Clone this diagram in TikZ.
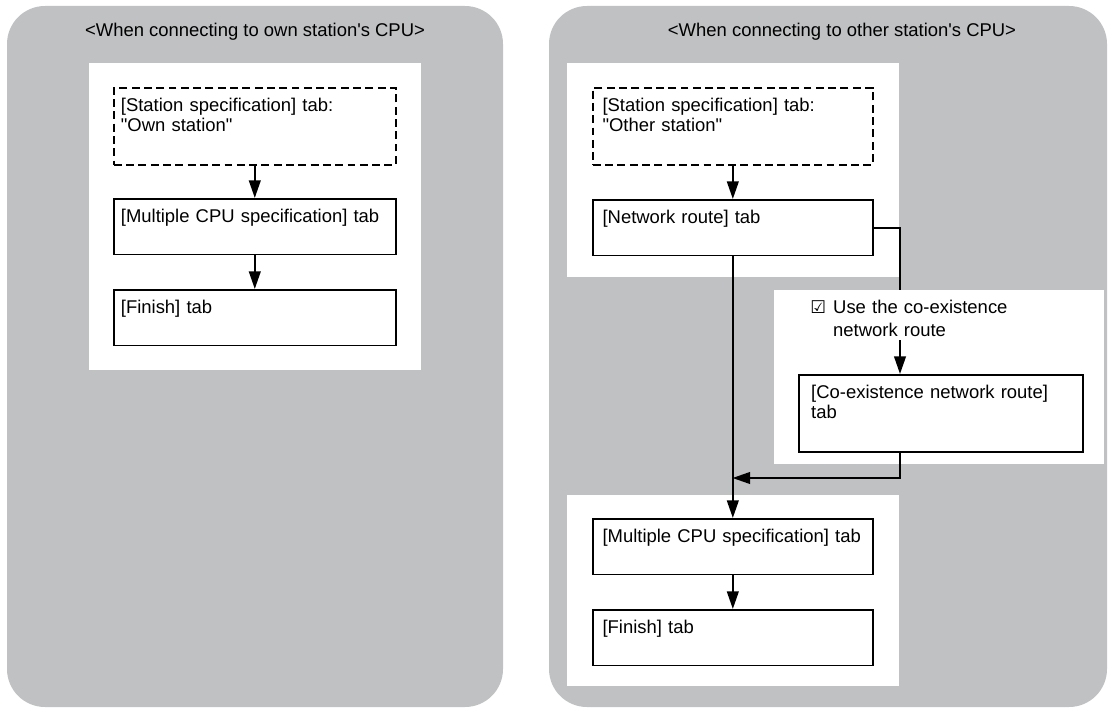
\documentclass[tikz,border=0pt]{standalone}
\usepackage{fontspec}
\setmainfont{Liberation Sans}
\newfontfamily\simbolo{DejaVu Sans}
\usetikzlibrary{arrows.meta}
\definecolor{gris}{HTML}{C0C1C3}

\begin{document}
\begin{tikzpicture}[x=0.02cm, y=-0.02cm, >={Triangle[length=10pt,width=6.6pt]},
  font=\fontsize{10.5}{11.2}\selectfont,
  tab/.style={draw, line width=1pt, anchor=north west, align=left, inner ysep=0pt, text height=13.5pt},
  tabL/.style={tab, inner xsep=4pt, text width=152.4pt},
  tabR/.style={tab, inner xsep=5.5pt, text width=148.3pt},
  one/.style={text depth=18.2pt},
  two/.style={text depth=30.3pt},
  tabdash/.style={dash pattern=on 4.5pt off 2.5pt},
  flow/.style={->, line width=1.2pt},
  wire/.style={line width=1.2pt}]
  \useasboundingbox (0,0) rectangle (1108,709);

  % fondos
  \fill[gris, rounded corners=0.76cm] (7,6) rectangle (503,707);
  \fill[gris, rounded corners=0.76cm] (549,6) rectangle (1107,707);
  \fill[white] (89,63) rectangle (421,370);
  \fill[white] (567,63) rectangle (899,277);
  \fill[white] (774,290) rectangle (1104,464);
  \fill[white] (567,495) rectangle (899,686);

  % own station
  \node (titL) at (255,32) {<When connecting to own station\textquotesingle s CPU>};
  \node[tabL, two, tabdash] (estL) at (113,87) {[Station specification] tab:\\\textquotedbl Own station\textquotedbl};
  \node[tabL, one] (multL) at (113,198) {[Multiple CPU specification] tab};
  \node[tabL, one] (finL) at (113,289) {[Finish] tab};
  \draw[flow] (estL.south) -- (multL.north);
  \draw[flow] (multL.south) -- (finL.north);

  % other station
  \node (titR) at (842,32) {<When connecting to other station\textquotesingle s CPU>};
  \node[tabR, two, tabdash] (estR) at (592,87) {[Station specification] tab:\\\textquotedbl Other station\textquotedbl};
  \node[tabR, one] (net) at (592,199) {[Network route] tab};
  \node[tab, two, inner xsep=7pt, text width=147.6pt] (coex) at (798,374) {[Co-existence network route]\\tab};
  \node[tabR, one] (multR) at (592,518) {[Multiple CPU specification] tab};
  \node[tabR, one] (finR) at (592,609) {[Finish] tab};
  \node[anchor=base west, inner sep=0pt, text width=4.2cm, align=left] (chk) at (810,313.6)
    {\makebox[13pt][l]{\simbolo\fontsize{10}{10}\selectfont ☑}Use the co-existence\\[1.8pt]\hspace*{13pt}network route};
  \coordinate (turn) at (900,290);
  \coordinate (chkout) at (900,340);
  \coordinate (join) at (732.5,478);
  \draw[flow] (estR.south) -- (net.north);
  \draw[wire] (net.east) -| (turn);
  \draw[flow] (chkout) -- (chkout |- coex.north);
  \draw[flow] (net.south) -- (multR.north);
  \draw[flow] (coex.south -| chkout) |- (join);
  \draw[flow] (multR.south) -- (finR.north);
\end{tikzpicture}
\end{document}
